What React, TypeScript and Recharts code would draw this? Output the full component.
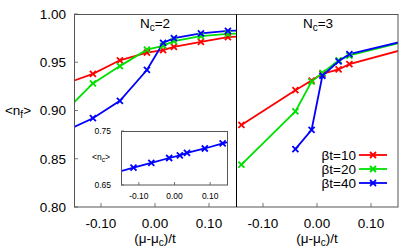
import React from 'react';
import { LineChart, Line, XAxis, YAxis } from 'recharts';

// N_c = 2 panel (also used for the inset)
const xNc2 = [-0.165, -0.115, -0.065, -0.015, 0.015, 0.035, 0.085, 0.135, 0.165];
const red2 = [0.928, 0.938, 0.952, 0.960, 0.9625, 0.966, 0.971, 0.976, 0.977];
const green2 = [0.900, 0.928, 0.946, 0.963, 0.967, 0.972, 0.977, 0.9795, 0.980];
const blue2 = [0.879, 0.892, 0.910, 0.942, 0.970, 0.975, 0.980, 0.9826, 0.983];

// N_c = 3 panel
const xNc3 = [-0.14, -0.04, -0.01, 0.01, 0.04, 0.06, 0.165];
const red3 = [0.885, 0.921, 0.931, 0.938, 0.9425, 0.948, 0.964];
const green3 = [0.844, 0.899, 0.930, 0.939, 0.952, 0.957, 0.9716];
const xBlue3 = [-0.04, -0.01, 0.01, 0.04, 0.06, 0.165];
const blue3 = [0.860, 0.880, 0.936, 0.951, 0.9585, 0.9725];

// inset <n_c>
const nc = [0.673, 0.682, 0.691, 0.700, 0.705, 0.7095, 0.7176, 0.727, 0.732];

const xTicks = [-0.1, 0, 0.1];
const yTicks = [0.8, 0.85, 0.9, 0.95, 1.0];
const insetYTicks = [0.65, 0.75];
const seriesNames = ['βt=10', 'βt=20', 'βt=40'];
const colors = ['#ff0000', '#00e000', '#0000ff'];

const toPts = (xs: number[], ys: number[]) => xs.map((x, i) => ({ x, y: ys[i] }));

const FONT = '"Liberation Sans", Arial, sans-serif';
const BOX = '#555';
const xDom: [number, number] = [-0.15, 0.15];
const yDom: [number, number] = [0.8, 1.0];
const fmt = (v: number) => v.toFixed(2);
const blank = () => '';
const tl = { stroke: '#777', strokeWidth: 1 };

const Cross = (props: any) => {
  const { cx, cy, stroke, index } = props;
  if (cx == null || cy == null) return <g key={index} />;
  const s = 3;
  return (
    <path key={index} d={`M${cx - s},${cy - s}L${cx + s},${cy + s}M${cx - s},${cy + s}L${cx + s},${cy - s}`}
      stroke={stroke} strokeWidth={1.8} fill="none" />
  );
};

const tickStyle = { fontSize: 13.5, fill: '#000', fontFamily: FONT };

const series = (sets: { x: number; y: number }[][]) =>
  sets.map((d, i) => (
    <Line key={i} data={d} dataKey="y" name={seriesNames[i]} type="linear" stroke={colors[i]} strokeWidth={1.8}
      dot={<Cross />} activeDot={false} isAnimationActive={false} />
  ));

// legend box, drawn in the overlay at the panel's lower right
const LegendBox = ({ x, y }: { x: number; y: number }) => (
  <g transform={`translate(${x},${y})`}>
    {seriesNames.map((n, i) => (
      <g key={n}>
        <text x={39} y={5 + i * 14} textAnchor="end" fontSize={13.5}>{n}</text>
        <line x1={42} x2={70} y1={i * 14} y2={i * 14} stroke={colors[i]} strokeWidth={1.8} />
        <Cross cx={56} cy={i * 14} stroke={colors[i]} index={i} />
      </g>
    ))}
  </g>
);

const Sub = ({ main, sub, rest, size = 10, d = 3 }: { main: string; sub: string; rest: string; size?: number; d?: number }) => (
  <>
    {main}<tspan fontSize={size} dy={d}>{sub}</tspan><tspan dy={-d}>{rest}</tspan>
  </>
);

export default function App() {
  return (
    <div style={{ position: 'absolute', left: 0, top: 0, width: 415, height: 249, background: '#fff', fontFamily: FONT }}>
      <div style={{ position: 'absolute', left: 0, top: 0 }}>
        <LineChart width={237} height={249} margin={{ top: 14, right: 1, left: 0, bottom: 0 }}>
          <XAxis type="number" dataKey="x" domain={xDom} allowDataOverflow ticks={xTicks} tickFormatter={fmt}
            height={42} tickSize={-4} tickMargin={15} tick={tickStyle} axisLine={false} tickLine={tl} />
          <XAxis xAxisId="top" orientation="top" type="number" dataKey="x" domain={xDom} allowDataOverflow ticks={xTicks}
            tickFormatter={blank} height={0} tickSize={-4} axisLine={false} tickLine={tl} />
          <YAxis type="number" domain={yDom} allowDataOverflow ticks={yTicks} tickFormatter={fmt} width={74}
            tickSize={-4} tickMargin={12} tick={tickStyle} axisLine={false} tickLine={tl} />
          {series([toPts(xNc2, red2), toPts(xNc2, green2), toPts(xNc2, blue2)])}
        </LineChart>
      </div>
      <div style={{ position: 'absolute', left: 236, top: 0 }}>
        <LineChart width={179} height={249} margin={{ top: 14, right: 17, left: 0, bottom: 0 }}>
          <XAxis type="number" dataKey="x" domain={xDom} allowDataOverflow ticks={xTicks} tickFormatter={fmt}
            height={42} tickSize={-4} tickMargin={15} tick={tickStyle} axisLine={false} tickLine={tl} />
          <XAxis xAxisId="top" orientation="top" type="number" dataKey="x" domain={xDom} allowDataOverflow ticks={xTicks}
            tickFormatter={blank} height={0} tickSize={-4} axisLine={false} tickLine={tl} />
          <YAxis type="number" domain={yDom} allowDataOverflow ticks={yTicks} tickFormatter={blank} width={0}
            tickSize={-4} axisLine={false} tickLine={tl} />
          <YAxis yAxisId="r" orientation="right" type="number" domain={yDom} ticks={yTicks} width={0}
            tickSize={-4} tickFormatter={blank} axisLine={false} tickLine={tl} />
          {series([toPts(xNc3, red3), toPts(xNc3, green3), toPts(xBlue3, blue3)])}
        </LineChart>
      </div>
      {/* inset */}
      <div style={{ position: 'absolute', left: 121, top: 131, width: 107, height: 54, background: '#fff' }} />
      <div style={{ position: 'absolute', left: 80, top: 120 }}>
        <LineChart width={150} height={90} margin={{ top: 11, right: 2, left: 1, bottom: 0 }}>
          <XAxis type="number" dataKey="x" domain={xDom} allowDataOverflow ticks={xTicks} tickFormatter={fmt}
            height={25} tickSize={-3} tickMargin={11} tick={{ ...tickStyle, fontSize: 8.5 }} axisLine={false} tickLine={tl} />
          <XAxis xAxisId="top" orientation="top" type="number" dataKey="x" domain={xDom} allowDataOverflow ticks={xTicks}
            tickFormatter={blank} height={0} tickSize={-3} axisLine={false} tickLine={tl} />
          <YAxis type="number" domain={[0.65, 0.75]} allowDataOverflow ticks={insetYTicks} tickFormatter={fmt} width={40}
            tickSize={-3} tickMargin={13} tick={{ ...tickStyle, fontSize: 8.5 }} axisLine={false} tickLine={tl} />
          <Line data={toPts(xNc2, nc)} dataKey="y" stroke={colors[2]} strokeWidth={1.8} dot={<Cross />}
            activeDot={false} isAnimationActive={false} />
        </LineChart>
      </div>
      <svg width={415} height={249} style={{ position: 'absolute', left: 0, top: 0, pointerEvents: 'none' }}
        fontFamily={FONT} fontSize={13.5}>
        <rect x={74.5} y={14.5} width={323.5} height={192.5} fill="none" stroke={BOX} />
        <line x1={236.5} x2={236.5} y1={14.5} y2={207} stroke="#000" />
        <rect x={121.5} y={131.5} width={106} height={53.5} fill="none" stroke={BOX} />
        <text x={18} y={115} textAnchor="middle"><Sub main="<n" sub="f" rest=">" /></text>
        <text x={155} y={243} textAnchor="middle"><Sub main="(μ-μ" sub="c" rest=")/t" /></text>
        <text x={317} y={243} textAnchor="middle"><Sub main="(μ-μ" sub="c" rest=")/t" /></text>
        <text x={155} y={28} textAnchor="middle"><Sub main="N" sub="c" rest="=2" /></text>
        <text x={318} y={28} textAnchor="middle"><Sub main="N" sub="c" rest="=3" /></text>
        <text x={101} y={160} textAnchor="middle" fontSize={8.5}><Sub main="<n" sub="c" rest=">" size={6.5} d={2} /></text>
        <LegendBox x={317} y={155} />
      </svg>
    </div>
  );
}
